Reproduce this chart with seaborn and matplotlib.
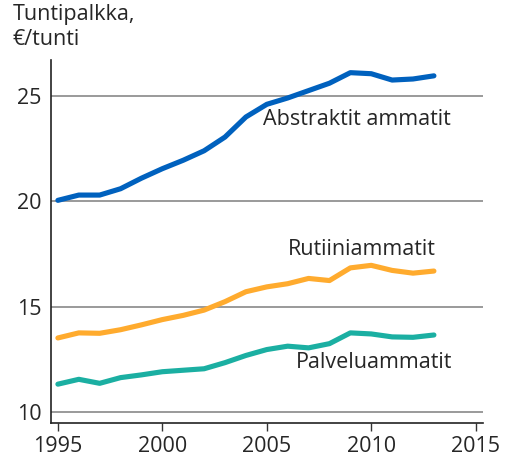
import matplotlib
matplotlib.use("Agg")
import matplotlib.pyplot as plt
import seaborn as sns
import pandas as pd

years = list(range(1995, 2014))
abstraktit = [20.05, 20.3, 20.3, 20.6, 21.1, 21.55, 21.95, 22.4, 23.05, 24.0,
              24.6, 24.9, 25.25, 25.6, 26.1, 26.05, 25.75, 25.8, 25.95]
rutiini = [13.53, 13.77, 13.75, 13.92, 14.15, 14.4, 14.6, 14.85, 15.25, 15.72,
           15.95, 16.1, 16.35, 16.25, 16.85, 16.97, 16.73, 16.6, 16.7]
palvelu = [11.34, 11.57, 11.38, 11.65, 11.78, 11.93, 12.0, 12.07, 12.36, 12.7,
           12.98, 13.14, 13.06, 13.26, 13.77, 13.72, 13.58, 13.56, 13.67]
series_names = ["Abstraktit ammatit", "Rutiiniammatit", "Palveluammatit"]
colors = ["#0061BE", "#FFAB2E", "#1BAFA2"]
x_ticks = [1995, 2000, 2005, 2010, 2015]
y_ticks = [10, 15, 20, 25]

df = pd.DataFrame({"year": years * 3,
                   "value": abstraktit + rutiini + palvelu,
                   "series": sum([[n] * len(years) for n in series_names], [])})

sns.set_style("white")
plt.rcParams["font.family"] = ["Open Sans", "DejaVu Sans"]
FS = 15.5

fig = plt.figure(figsize=(5.06, 4.57), dpi=100)
ax = fig.add_axes([51 / 506, 1 - 423 / 457, (483 - 51) / 506, (423 - 60) / 457])

for y in y_ticks:
    ax.axhline(y, color="#7f7f7f", lw=1.1, zorder=0)

sns.lineplot(data=df, x="year", y="value", hue="series", palette=colors,
             hue_order=series_names, linewidth=3.7, ax=ax, legend=False,
             solid_capstyle="round")

ax.set_xlim(1994.67, 2015.35)
ax.set_ylim(9.5, 26.7)
ax.set_xticks(x_ticks)
ax.set_yticks(y_ticks)
ax.tick_params(axis="x", direction="out", length=6, width=1, color="#333333",
               labelsize=FS, pad=3, bottom=True)
ax.tick_params(axis="y", length=0, labelsize=FS, pad=7)
ax.set_xlabel("")
ax.set_ylabel("")
for s in ["top", "right"]:
    ax.spines[s].set_visible(False)
for s in ["left", "bottom"]:
    ax.spines[s].set_color("#222222")
    ax.spines[s].set_linewidth(1.2)

ax.text(2004.8, 23.9, "Abstraktit ammatit", fontsize=FS, ha="left", va="center")
ax.text(2006.0, 17.72, "Rutiiniammatit", fontsize=FS, ha="left", va="center")
ax.text(2006.4, 12.37, "Palveluammatit", fontsize=FS, ha="left", va="center")

fig.text(13 / 506, 1 - 4 / 457, "Tuntipalkka,\n€/tunti", fontsize=FS,
         ha="left", va="top", linespacing=1.25)

fig.savefig("out.png", dpi=100)
